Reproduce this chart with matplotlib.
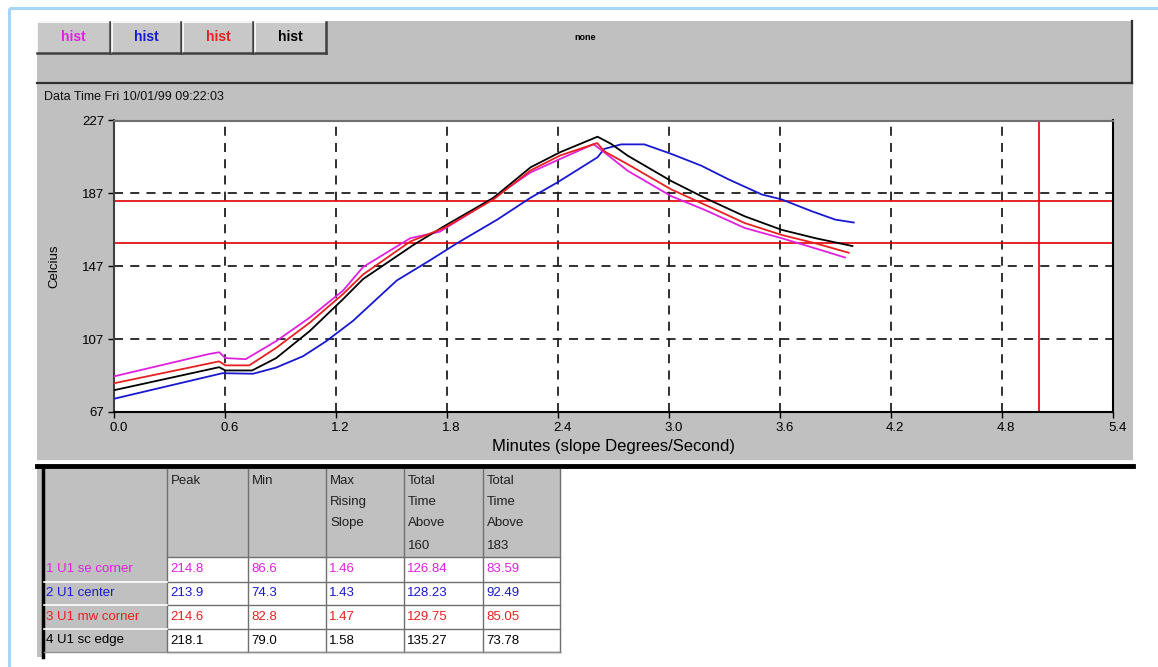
import matplotlib
matplotlib.use('Agg')
import matplotlib.pyplot as plt
from matplotlib.patches import Rectangle
from matplotlib.transforms import ScaledTranslation

# ---------------- data ----------------
t_se = [0.0, 0.51, 0.567, 0.6, 0.71, 0.875, 1.056, 1.237, 1.345, 1.6, 1.76, 1.925,
        2.05, 2.25, 2.41, 2.59, 2.648, 2.775, 3.01, 3.19, 3.408, 3.607, 3.79, 3.95]
v_se = [86.6, 98.8, 99.8, 96.6, 96.0, 105.9, 118.8, 133.7, 146.6, 162.4, 166.0, 176.3,
        184.6, 198.5, 205.9, 214.0, 209.6, 199.4, 185.5, 178.0, 168.0, 162.4, 156.8, 151.8]

t_center = [0.0, 0.585, 0.75, 0.875, 1.02, 1.146, 1.29, 1.527, 1.707, 1.852, 2.07, 2.25,
            2.395, 2.612, 2.648, 2.74, 2.865, 3.01, 3.173, 3.318, 3.5, 3.607, 3.77, 3.897, 3.997]
v_center = [74.3, 88.3, 88.0, 91.4, 97.6, 105.9, 117.0, 139.2, 150.3, 159.6, 172.6, 184.6,
            193.0, 206.8, 211.4, 213.9, 213.9, 208.7, 202.2, 194.8, 186.4, 183.7, 177.2, 172.6, 171.0]

t_mw = [0.0, 0.567, 0.6, 0.73, 0.875, 1.056, 1.237, 1.345, 1.6, 1.78, 2.05, 2.25, 2.41,
        2.61, 2.65, 2.775, 3.01, 3.19, 3.408, 3.607, 3.79, 3.97]
v_mw = [82.8, 94.8, 92.6, 92.6, 102.2, 116.0, 131.8, 142.5, 160.6, 167.9, 183.7, 199.6, 207.8,
        214.6, 210.0, 203.0, 189.2, 180.9, 170.7, 164.2, 159.6, 154.4]

t_sc = [0.0, 0.567, 0.6, 0.745, 0.875, 1.056, 1.237, 1.345, 1.617, 1.78, 2.05, 2.25, 2.41,
        2.612, 2.685, 2.775, 3.01, 3.19, 3.408, 3.607, 3.79, 3.99]
v_sc = [79.0, 91.6, 89.8, 89.8, 96.6, 111.4, 129.0, 140.0, 158.7, 168.8, 184.6, 201.3, 209.6,
        218.1, 214.2, 207.7, 193.8, 184.6, 174.4, 167.0, 162.4, 158.1]

thresholds = [160, 183]
marker_time = 5.0

x_ticks = [0.0, 0.6, 1.2, 1.8, 2.4, 3.0, 3.6, 4.2, 4.8, 5.4]
x_tick_labels = ["0.0", "0.6", "1.2", "1.8", "2.4", "3.0", "3.6", "4.2", "4.8", "5.4"]
y_ticks = [67, 107, 147, 187, 227]
y_tick_labels = ["67", "107", "147", "187", "227"]

series_colors = ["#e020e0", "#1818d0", "#e82020", "#000000"]
button_labels = ["hist", "hist", "hist", "hist"]

row_labels = ["1 U1 se corner", "2 U1 center", "3 U1 mw corner", "4 U1 sc edge"]
col_headers = ["Peak", "Min", "Max\nRising\nSlope", "Total\nTime\nAbove\n160", "Total\nTime\nAbove\n183"]
peak = ["214.8", "213.9", "214.6", "218.1"]
minimum = ["86.6", "74.3", "82.8", "79.0"]
max_slope = ["1.46", "1.43", "1.47", "1.58"]
above_160 = ["126.84", "128.23", "129.75", "135.27"]
above_183 = ["83.59", "92.49", "85.05", "73.78"]

# ---------------- figure ----------------
W, H = 1158, 667
FONT = "Liberation Sans"
fig = plt.figure(figsize=(W / 100, H / 100), dpi=100)
fig.patch.set_facecolor("white")
bg = fig.add_axes([0, 0, 1, 1])
bg.set_xlim(0, W)
bg.set_ylim(H, 0)
bg.axis("off")

# light blue outer frame
bg.plot([9, 9], [8, H], color="#a6d6f5", lw=2.2, solid_capstyle="butt")
bg.plot([9, W], [8, 8], color="#a6d6f5", lw=2.2, solid_capstyle="butt")

# gray panel
bg.add_patch(Rectangle((37, 21), 1133 - 37, 461 - 21, fc="#c0c0c0", ec="none"))
# toolbar border
bg.plot([37, 1132], [83, 83], color="#303030", lw=1.6)
bg.plot([1132, 1132], [21, 83], color="#303030", lw=1.6)

# buttons
btn_x = [(37, 110), (112, 181), (183, 253), (255, 326)]
for (x0, x1), lab, col in zip(btn_x, button_labels, series_colors):
    bg.add_patch(Rectangle((x0, 22), x1 - x0, 31, fc="#c8c8c8", ec="none"))
    bg.plot([x0, x1], [22, 22], color="white", lw=1.2)
    bg.plot([x0, x0], [22, 53], color="white", lw=1.2)
    bg.plot([x0, x1], [53, 53], color="#404040", lw=1.8)
    bg.plot([x1, x1], [22, 53], color="#404040", lw=1.8)
    bg.text((x0 + x1) / 2, 37, lab, color=col, fontsize=10, fontweight="bold",
            ha="center", va="center", family=FONT)
bg.text(585, 38, "none", color="black", fontsize=6.5, fontweight="bold",
        ha="center", va="center", family=FONT)

bg.text(44, 97, "Data Time Fri 10/01/99 09:22:03", fontsize=9, ha="left", va="center",
        family=FONT, color="#101010")

# bottom separators
bg.plot([37, 1133], [461, 461], color="white", lw=1.2)
bg.plot([37, 1133], [466, 466], color="black", lw=3.5)
bg.add_patch(Rectangle((37, 466), 5, 657 - 466, fc="#c0c0c0", ec="none"))
bg.plot([43, 43], [466, 657], color="black", lw=2.5)

# ---------------- table ----------------
col_x = [44, 167, 248, 326, 404, 483, 560]
row_y = [469, 557, 582, 605, 629, 652]
gray = "#c0c0c0"
bg.add_patch(Rectangle((col_x[0], row_y[0]), col_x[-1] - col_x[0], row_y[1] - row_y[0], fc=gray, ec="none"))
for r in range(4):
    y0, y1 = row_y[r + 1], row_y[r + 2]
    bg.add_patch(Rectangle((col_x[0], y0), col_x[1] - col_x[0], y1 - y0, fc=gray, ec="none"))
    bg.add_patch(Rectangle((col_x[1], y0), col_x[-1] - col_x[1], y1 - y0, fc="white", ec="none"))
for x in col_x[1:]:
    bg.plot([x, x], [row_y[0], row_y[-1]], color="#707070", lw=1.0)
for y in row_y[1:]:
    bg.plot([col_x[1], col_x[-1]], [y, y], color="#707070", lw=1.0)
for y in row_y[2:-1]:
    bg.plot([col_x[0], col_x[1]], [y, y], color="white", lw=1.2)
bg.plot([col_x[0], col_x[-1]], [row_y[-1], row_y[-1]], color="#909090", lw=1.0)

header_line_y = [481, 502, 523, 546]
for c, hdr in enumerate(col_headers):
    for k, line in enumerate(hdr.split("\n")):
        bg.text(col_x[c + 1] + 4, header_line_y[k], line, fontsize=9.5, ha="left", va="center",
                family=FONT, color="#202020")

columns = [peak, minimum, max_slope, above_160, above_183]
for r in range(4):
    yc = (row_y[r + 1] + row_y[r + 2]) / 2
    col = series_colors[r]
    bg.text(col_x[0] + 2, yc, row_labels[r], fontsize=9.5, ha="left", va="center", family=FONT, color=col)
    for c, vals in enumerate(columns):
        bg.text(col_x[c + 1] + 3, yc, vals[r], fontsize=9.5, ha="left", va="center", family=FONT, color=col)

# ---------------- chart ----------------
L, R, T, B = 114.3, 1113.3, 120.5, 412.0
ax = fig.add_axes([L / W, (H - B) / H, (R - L) / W, (B - T) / H])
ax.set_facecolor("white")
ax.set_xlim(0, 5.4)
ax.set_ylim(67, 227)
ax.set_xticks(x_ticks)
ax.set_xticklabels(x_tick_labels)
ax.set_yticks(y_ticks)
ax.set_yticklabels(y_tick_labels)
ax.grid(True, color="#202020", linestyle=(0, (5, 4)), lw=1.3)
ax.set_axisbelow(True)
ax.tick_params(axis="both", direction="out", length=4, width=1, labelsize=9.5, pad=3, colors="black")
for lab in ax.get_xticklabels() + ax.get_yticklabels():
    lab.set_family(FONT)
for lab in ax.get_xticklabels():
    lab.set_transform(lab.get_transform() + ScaledTranslation(4 / 100, 0, fig.dpi_scale_trans))
ax.spines["top"].set_color("#707070")
ax.spines["left"].set_color("#404040")
ax.spines["bottom"].set_color("black")
ax.spines["right"].set_color("black")
for s in ax.spines.values():
    s.set_linewidth(1.5)

for y in thresholds:
    ax.axhline(y, color="#e00000", lw=1.2, zorder=2)
ax.axvline(marker_time, color="#e00000", lw=1.2, zorder=2)

ax.plot(t_center, v_center, color=series_colors[1], lw=1.3, zorder=3)
ax.plot(t_se, v_se, color=series_colors[0], lw=1.3, zorder=3)
ax.plot(t_sc, v_sc, color=series_colors[3], lw=1.3, zorder=4)
ax.plot(t_mw, v_mw, color=series_colors[2], lw=1.3, zorder=5)

ax.set_xlabel("Minutes (slope Degrees/Second)", fontsize=12, family=FONT, labelpad=4)
ax.set_ylabel("Celcius", fontsize=9.5, family=FONT, labelpad=16)

fig.savefig("out.png", dpi=100)
